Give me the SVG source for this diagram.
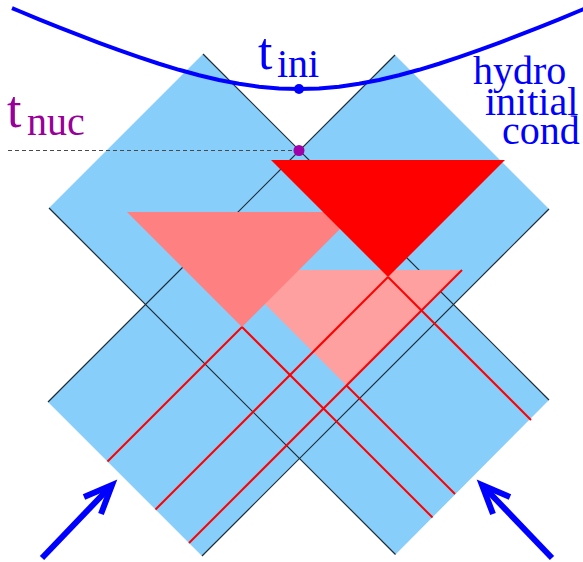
<svg xmlns="http://www.w3.org/2000/svg" width="583" height="562" viewBox="0 0 583 562">
<style>
.band{fill:#87cefa;stroke:none}
.edge{stroke:#1e2b38;stroke-width:1.2;fill:none}
.rl{stroke:#ff0000;stroke-width:2;fill:none}
.arrow{stroke:#0000ff;stroke-width:6;fill:none;stroke-linejoin:miter;stroke-miterlimit:10}
text{font-family:'Liberation Serif','Times New Roman',serif}
</style>
<g id="bands">
<polygon class="band" points="203,54 549,400 395.5,554.5 49,208"/>
<polygon class="band" points="395,55 549,209 202,556 48,402"/>
</g>
<g id="connectors">
<line class="edge" x1="203" y1="54" x2="549" y2="400"/>
<line class="edge" x1="49" y1="208" x2="395.5" y2="554.5"/>
<line class="edge" x1="395" y1="55" x2="48" y2="402"/>
<line class="edge" x1="549" y1="209" x2="202" y2="556"/>
<line x1="8" y1="150.5" x2="299" y2="150.5" stroke="#4a4a4a" stroke-width="1.2" stroke-dasharray="4,3"/>
</g>
<g id="triangles">
<polygon id="pink" fill="#ffa0a0" points="231,270 462,270 346.5,385.5"/>
<polygon id="salmon" fill="#ff8080" points="127,212 357,212 242,327"/>
<polygon id="red" fill="#ff0000" points="271,160 505,160 388,277"/>
</g>
<g id="redlines">
<line class="rl" x1="242" y1="327" x2="107.5" y2="461.5"/>
<line class="rl" x1="242" y1="327" x2="432.5" y2="517.5"/>
<line class="rl" x1="388" y1="277" x2="155.5" y2="509.5"/>
<line class="rl" x1="388" y1="277" x2="531" y2="420"/>
<line class="rl" x1="462" y1="270" x2="189" y2="543"/>
<line class="rl" x1="346.5" y1="385.5" x2="455" y2="494"/>
</g>
<g id="hydro-curve">
<path fill="none" stroke="#0000ff" stroke-width="4" d="M12,8.1 L19,11 L39,19.3 L59,27.35 L79,35.2 L99,42.86 L119,50.2 L139,57.19 L159,63.75 L179,69.8 L199,75.23 L219,79.94 L239,83.78 L259,86.64 L279,88.4 L299,89 L319,88.4 L339,86.64 L359,83.78 L379,79.94 L399,75.23 L419,69.8 L439,63.75 L459,57.19 L479,50.2 L499,42.86 L519,35.2 L539,27.35 L559,19.3 L579,11 L589,6.8"/>
<circle cx="299" cy="89" r="5" fill="#0000ff"/>
</g>
<g id="nuc-point">
<circle cx="299" cy="150.5" r="5.5" fill="#a000a8"/>
</g>
<g id="label-tini" fill="#0000ff" font-family="'Liberation Serif', serif">
<text x="258" y="69" font-size="52" font-family="'Liberation Serif', serif">t</text>
<text x="277" y="77" font-size="40" font-family="'Liberation Serif', serif">ini</text>
</g>
<g id="label-tnuc" fill="#990099" font-family="'Liberation Serif', serif">
<text x="7" y="127" font-size="52" font-family="'Liberation Serif', serif">t</text>
<text x="27" y="135" font-size="40" font-family="'Liberation Serif', serif">nuc</text>
</g>
<g id="label-hydro" fill="#0000ff" font-size="40" font-family="'Liberation Serif', serif">
<text x="473" y="84" font-family="'Liberation Serif', serif">hydro</text>
<text x="485" y="115" font-family="'Liberation Serif', serif">initial</text>
<text x="502" y="144" font-family="'Liberation Serif', serif">cond</text>
</g>
<g id="arrow-left">
<line class="arrow" x1="42" y1="558" x2="110" y2="487"/>
<path class="arrow" d="M84,497 L112,485 L101,514"/>
</g>
<g id="arrow-right">
<line class="arrow" x1="552" y1="558" x2="484" y2="487"/>
<path class="arrow" d="M510,497 L482,485 L493,514"/>
</g>
</svg>
